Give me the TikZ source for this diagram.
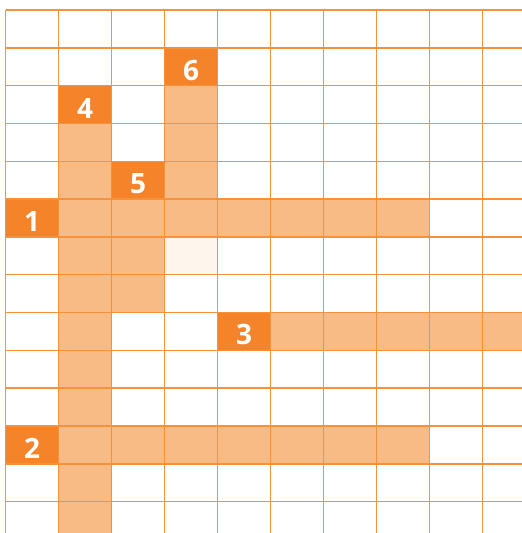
\documentclass[tikz,border=0pt]{standalone}
\usepackage{fontspec}
\setmainfont{Open Sans}
\definecolor{gridline}{HTML}{F7913A}
\definecolor{darkcell}{HTML}{F4832A}
\definecolor{lightcell}{HTML}{F9BB85}
\definecolor{faintcell}{HTML}{FEF5EC}
\newcommand\cellfill[3]{\fill[#3] ({5.5+53*#1},{10+37.82*#2}) rectangle ++(53,37.82);}
\begin{document}
\begin{tikzpicture}[x={(1pt,0)},y={(0,-1pt)},
  num/.style={text=white,font=\fontsize{28}{28}\selectfont\bfseries,inner sep=0pt,anchor=center},
  gridstyle/.style={draw=gridline,line width=1.5pt}]
\useasboundingbox (0,0) rectangle (522,533);
\clip (0,0) rectangle (522,533);
% dark cells
\cellfill{3}{1}{darkcell}
\cellfill{1}{2}{darkcell}
\cellfill{2}{4}{darkcell}
\cellfill{0}{5}{darkcell}
\cellfill{4}{8}{darkcell}
\cellfill{0}{11}{darkcell}
% light cells
\foreach \r in {2,3,4} {\cellfill{3}{\r}{lightcell}}
\foreach \r in {3,4,6,7,8,9,10,12,13} {\cellfill{1}{\r}{lightcell}}
\foreach \c in {1,...,7} {\cellfill{\c}{5}{lightcell}}
\foreach \c in {1,...,7} {\cellfill{\c}{11}{lightcell}}
\foreach \r in {6,7} {\cellfill{2}{\r}{lightcell}}
\foreach \c in {5,...,9} {\cellfill{\c}{8}{lightcell}}
\cellfill{3}{6}{faintcell}
% grid
\foreach \i in {0,...,9} {\draw[gridstyle] ({5.5+53*\i},10) -- ({5.5+53*\i},540);}
\foreach \j in {0,...,13} {\draw[gridstyle] (5.5,{10+37.82*\j}) -- (530,{10+37.82*\j});}
% numbers
\node[num] (n1) at ({5.5+53*0+26.5},{10+37.82*5+22.4}) {1};
\node[num] (n2) at ({5.5+53*0+26.5},{10+37.82*11+22.4}) {2};
\node[num] (n3) at ({5.5+53*4+26.5},{10+37.82*8+22.4}) {3};
\node[num] (n4) at ({5.5+53*1+26.5},{10+37.82*2+22.4}) {4};
\node[num] (n5) at ({5.5+53*2+26.5},{10+37.82*4+22.4}) {5};
\node[num] (n6) at ({5.5+53*3+26.5},{10+37.82*1+22.4}) {6};
\end{tikzpicture}
\end{document}
